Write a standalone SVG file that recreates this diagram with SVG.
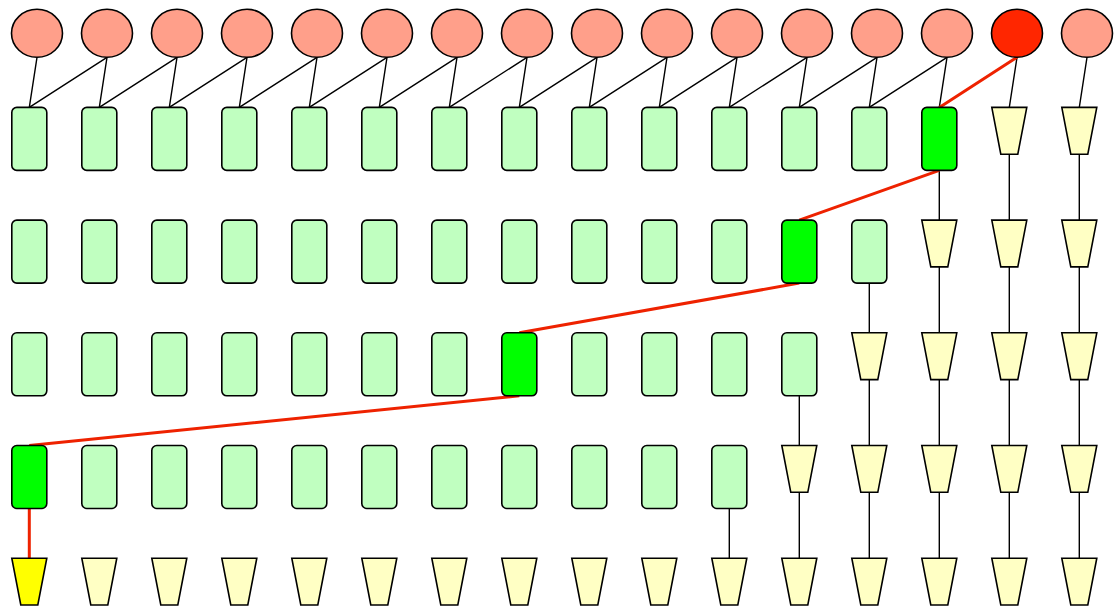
<svg xmlns="http://www.w3.org/2000/svg" xmlns:xlink="http://www.w3.org/1999/xlink" width="1117" height="609" viewBox="0 0 1117 609">
  <style>
    .node { stroke: #000; stroke-width: 1.6; }
    .src { fill: #ff9f8a; }
    .src-hot { fill: #ff2600; }
    .cell { fill: #c0ffc0; }
    .cell-hot { fill: #00ff00; }
    .sink { fill: #ffffc4; }
    .sink-hot { fill: #ffff00; }
    .edge { fill: none; stroke: #000; stroke-width: 1.4; }
    .path { fill: none; stroke: #ee2200; stroke-width: 3; }
  </style>
  <defs>
    <ellipse id="oval" cx="7.7" cy="33.3" rx="25.5" ry="24"/>
    <rect id="box" x="-17.5" y="0.7" width="35" height="63" rx="5" ry="5"/>
    <polygon id="trap" points="-17.5,0.7 17.5,0.7 8.5,47.5 -8.5,47.5"/>
  </defs>

  <rect width="1117" height="609" fill="#fff"/>

  <!-- connectors -->
  <g id="connectors">
    <!-- sources to first row -->
    <path class="edge" d="M37,57.3L29.3,107.4 M107,57.3L29.3,107.4"/>
    <path class="edge" d="M107,57.3L99.3,107.4 M177,57.3L99.3,107.4"/>
    <path class="edge" d="M177,57.3L169.3,107.4 M247,57.3L169.3,107.4"/>
    <path class="edge" d="M247,57.3L239.3,107.4 M317,57.3L239.3,107.4"/>
    <path class="edge" d="M317,57.3L309.3,107.4 M387,57.3L309.3,107.4"/>
    <path class="edge" d="M387,57.3L379.3,107.4 M457,57.3L379.3,107.4"/>
    <path class="edge" d="M457,57.3L449.3,107.4 M527,57.3L449.3,107.4"/>
    <path class="edge" d="M527,57.3L519.3,107.4 M597,57.3L519.3,107.4"/>
    <path class="edge" d="M597,57.3L589.3,107.4 M667,57.3L589.3,107.4"/>
    <path class="edge" d="M667,57.3L659.3,107.4 M737,57.3L659.3,107.4"/>
    <path class="edge" d="M737,57.3L729.3,107.4 M807,57.3L729.3,107.4"/>
    <path class="edge" d="M807,57.3L799.3,107.4 M877,57.3L799.3,107.4"/>
    <path class="edge" d="M877,57.3L869.3,107.4 M947,57.3L869.3,107.4"/>
    <path class="edge" d="M947,57.3L939.3,107.4"/>
    <path class="edge" d="M1017,57.3L1009.3,107.4 M1087,57.3L1079.3,107.4"/>

    <!-- row 1 to row 2 -->
    <path class="edge" d="M939.3,170.4V220.1 M1009.3,154.2V220.1 M1079.3,154.2V220.1"/>
    <!-- row 2 to row 3 -->
    <path class="edge" d="M869.3,283.1V332.8 M939.3,266.9V332.8 M1009.3,266.9V332.8 M1079.3,266.9V332.8"/>
    <!-- row 3 to row 4 -->
    <path class="edge" d="M799.3,395.8V445.5 M869.3,379.6V445.5 M939.3,379.6V445.5 M1009.3,379.6V445.5 M1079.3,379.6V445.5"/>
    <!-- row 4 to row 5 -->
    <path class="edge" d="M729.3,508.5V558.2 M799.3,492.3V558.2 M869.3,492.3V558.2 M939.3,492.3V558.2 M1009.3,492.3V558.2 M1079.3,492.3V558.2"/>

    <!-- highlighted route -->
    <path class="path" d="M1017,57.3L939.3,107.4 M939.3,170.4L799.3,220.1 M799.3,283.1L519.3,332.8 M519.3,395.8L29.3,445.5 M29.3,508.5V558.2"/>
  </g>

  <!-- sources -->
  <g id="s0" transform="translate(29.3,0)"><use xlink:href="#oval" class="node src"/></g>
  <g id="s1" transform="translate(99.3,0)"><use xlink:href="#oval" class="node src"/></g>
  <g id="s2" transform="translate(169.3,0)"><use xlink:href="#oval" class="node src"/></g>
  <g id="s3" transform="translate(239.3,0)"><use xlink:href="#oval" class="node src"/></g>
  <g id="s4" transform="translate(309.3,0)"><use xlink:href="#oval" class="node src"/></g>
  <g id="s5" transform="translate(379.3,0)"><use xlink:href="#oval" class="node src"/></g>
  <g id="s6" transform="translate(449.3,0)"><use xlink:href="#oval" class="node src"/></g>
  <g id="s7" transform="translate(519.3,0)"><use xlink:href="#oval" class="node src"/></g>
  <g id="s8" transform="translate(589.3,0)"><use xlink:href="#oval" class="node src"/></g>
  <g id="s9" transform="translate(659.3,0)"><use xlink:href="#oval" class="node src"/></g>
  <g id="s10" transform="translate(729.3,0)"><use xlink:href="#oval" class="node src"/></g>
  <g id="s11" transform="translate(799.3,0)"><use xlink:href="#oval" class="node src"/></g>
  <g id="s12" transform="translate(869.3,0)"><use xlink:href="#oval" class="node src"/></g>
  <g id="s13" transform="translate(939.3,0)"><use xlink:href="#oval" class="node src"/></g>
  <g id="s14" transform="translate(1009.3,0)"><use xlink:href="#oval" class="node src-hot"/></g>
  <g id="s15" transform="translate(1079.3,0)"><use xlink:href="#oval" class="node src"/></g>

  <!-- row 1 -->
  <g id="r1c0" transform="translate(29.3,106.7)"><use xlink:href="#box" class="node cell"/></g>
  <g id="r1c1" transform="translate(99.3,106.7)"><use xlink:href="#box" class="node cell"/></g>
  <g id="r1c2" transform="translate(169.3,106.7)"><use xlink:href="#box" class="node cell"/></g>
  <g id="r1c3" transform="translate(239.3,106.7)"><use xlink:href="#box" class="node cell"/></g>
  <g id="r1c4" transform="translate(309.3,106.7)"><use xlink:href="#box" class="node cell"/></g>
  <g id="r1c5" transform="translate(379.3,106.7)"><use xlink:href="#box" class="node cell"/></g>
  <g id="r1c6" transform="translate(449.3,106.7)"><use xlink:href="#box" class="node cell"/></g>
  <g id="r1c7" transform="translate(519.3,106.7)"><use xlink:href="#box" class="node cell"/></g>
  <g id="r1c8" transform="translate(589.3,106.7)"><use xlink:href="#box" class="node cell"/></g>
  <g id="r1c9" transform="translate(659.3,106.7)"><use xlink:href="#box" class="node cell"/></g>
  <g id="r1c10" transform="translate(729.3,106.7)"><use xlink:href="#box" class="node cell"/></g>
  <g id="r1c11" transform="translate(799.3,106.7)"><use xlink:href="#box" class="node cell"/></g>
  <g id="r1c12" transform="translate(869.3,106.7)"><use xlink:href="#box" class="node cell"/></g>
  <g id="r1c13" transform="translate(939.3,106.7)"><use xlink:href="#box" class="node cell-hot"/></g>
  <g id="r1c14" transform="translate(1009.3,106.7)"><use xlink:href="#trap" class="node sink"/></g>
  <g id="r1c15" transform="translate(1079.3,106.7)"><use xlink:href="#trap" class="node sink"/></g>

  <!-- row 2 -->
  <g id="r2c0" transform="translate(29.3,219.4)"><use xlink:href="#box" class="node cell"/></g>
  <g id="r2c1" transform="translate(99.3,219.4)"><use xlink:href="#box" class="node cell"/></g>
  <g id="r2c2" transform="translate(169.3,219.4)"><use xlink:href="#box" class="node cell"/></g>
  <g id="r2c3" transform="translate(239.3,219.4)"><use xlink:href="#box" class="node cell"/></g>
  <g id="r2c4" transform="translate(309.3,219.4)"><use xlink:href="#box" class="node cell"/></g>
  <g id="r2c5" transform="translate(379.3,219.4)"><use xlink:href="#box" class="node cell"/></g>
  <g id="r2c6" transform="translate(449.3,219.4)"><use xlink:href="#box" class="node cell"/></g>
  <g id="r2c7" transform="translate(519.3,219.4)"><use xlink:href="#box" class="node cell"/></g>
  <g id="r2c8" transform="translate(589.3,219.4)"><use xlink:href="#box" class="node cell"/></g>
  <g id="r2c9" transform="translate(659.3,219.4)"><use xlink:href="#box" class="node cell"/></g>
  <g id="r2c10" transform="translate(729.3,219.4)"><use xlink:href="#box" class="node cell"/></g>
  <g id="r2c11" transform="translate(799.3,219.4)"><use xlink:href="#box" class="node cell-hot"/></g>
  <g id="r2c12" transform="translate(869.3,219.4)"><use xlink:href="#box" class="node cell"/></g>
  <g id="r2c13" transform="translate(939.3,219.4)"><use xlink:href="#trap" class="node sink"/></g>
  <g id="r2c14" transform="translate(1009.3,219.4)"><use xlink:href="#trap" class="node sink"/></g>
  <g id="r2c15" transform="translate(1079.3,219.4)"><use xlink:href="#trap" class="node sink"/></g>

  <!-- row 3 -->
  <g id="r3c0" transform="translate(29.3,332.1)"><use xlink:href="#box" class="node cell"/></g>
  <g id="r3c1" transform="translate(99.3,332.1)"><use xlink:href="#box" class="node cell"/></g>
  <g id="r3c2" transform="translate(169.3,332.1)"><use xlink:href="#box" class="node cell"/></g>
  <g id="r3c3" transform="translate(239.3,332.1)"><use xlink:href="#box" class="node cell"/></g>
  <g id="r3c4" transform="translate(309.3,332.1)"><use xlink:href="#box" class="node cell"/></g>
  <g id="r3c5" transform="translate(379.3,332.1)"><use xlink:href="#box" class="node cell"/></g>
  <g id="r3c6" transform="translate(449.3,332.1)"><use xlink:href="#box" class="node cell"/></g>
  <g id="r3c7" transform="translate(519.3,332.1)"><use xlink:href="#box" class="node cell-hot"/></g>
  <g id="r3c8" transform="translate(589.3,332.1)"><use xlink:href="#box" class="node cell"/></g>
  <g id="r3c9" transform="translate(659.3,332.1)"><use xlink:href="#box" class="node cell"/></g>
  <g id="r3c10" transform="translate(729.3,332.1)"><use xlink:href="#box" class="node cell"/></g>
  <g id="r3c11" transform="translate(799.3,332.1)"><use xlink:href="#box" class="node cell"/></g>
  <g id="r3c12" transform="translate(869.3,332.1)"><use xlink:href="#trap" class="node sink"/></g>
  <g id="r3c13" transform="translate(939.3,332.1)"><use xlink:href="#trap" class="node sink"/></g>
  <g id="r3c14" transform="translate(1009.3,332.1)"><use xlink:href="#trap" class="node sink"/></g>
  <g id="r3c15" transform="translate(1079.3,332.1)"><use xlink:href="#trap" class="node sink"/></g>

  <!-- row 4 -->
  <g id="r4c0" transform="translate(29.3,444.8)"><use xlink:href="#box" class="node cell-hot"/></g>
  <g id="r4c1" transform="translate(99.3,444.8)"><use xlink:href="#box" class="node cell"/></g>
  <g id="r4c2" transform="translate(169.3,444.8)"><use xlink:href="#box" class="node cell"/></g>
  <g id="r4c3" transform="translate(239.3,444.8)"><use xlink:href="#box" class="node cell"/></g>
  <g id="r4c4" transform="translate(309.3,444.8)"><use xlink:href="#box" class="node cell"/></g>
  <g id="r4c5" transform="translate(379.3,444.8)"><use xlink:href="#box" class="node cell"/></g>
  <g id="r4c6" transform="translate(449.3,444.8)"><use xlink:href="#box" class="node cell"/></g>
  <g id="r4c7" transform="translate(519.3,444.8)"><use xlink:href="#box" class="node cell"/></g>
  <g id="r4c8" transform="translate(589.3,444.8)"><use xlink:href="#box" class="node cell"/></g>
  <g id="r4c9" transform="translate(659.3,444.8)"><use xlink:href="#box" class="node cell"/></g>
  <g id="r4c10" transform="translate(729.3,444.8)"><use xlink:href="#box" class="node cell"/></g>
  <g id="r4c11" transform="translate(799.3,444.8)"><use xlink:href="#trap" class="node sink"/></g>
  <g id="r4c12" transform="translate(869.3,444.8)"><use xlink:href="#trap" class="node sink"/></g>
  <g id="r4c13" transform="translate(939.3,444.8)"><use xlink:href="#trap" class="node sink"/></g>
  <g id="r4c14" transform="translate(1009.3,444.8)"><use xlink:href="#trap" class="node sink"/></g>
  <g id="r4c15" transform="translate(1079.3,444.8)"><use xlink:href="#trap" class="node sink"/></g>

  <!-- row 5 -->
  <g id="r5c0" transform="translate(29.3,557.5)"><use xlink:href="#trap" class="node sink-hot"/></g>
  <g id="r5c1" transform="translate(99.3,557.5)"><use xlink:href="#trap" class="node sink"/></g>
  <g id="r5c2" transform="translate(169.3,557.5)"><use xlink:href="#trap" class="node sink"/></g>
  <g id="r5c3" transform="translate(239.3,557.5)"><use xlink:href="#trap" class="node sink"/></g>
  <g id="r5c4" transform="translate(309.3,557.5)"><use xlink:href="#trap" class="node sink"/></g>
  <g id="r5c5" transform="translate(379.3,557.5)"><use xlink:href="#trap" class="node sink"/></g>
  <g id="r5c6" transform="translate(449.3,557.5)"><use xlink:href="#trap" class="node sink"/></g>
  <g id="r5c7" transform="translate(519.3,557.5)"><use xlink:href="#trap" class="node sink"/></g>
  <g id="r5c8" transform="translate(589.3,557.5)"><use xlink:href="#trap" class="node sink"/></g>
  <g id="r5c9" transform="translate(659.3,557.5)"><use xlink:href="#trap" class="node sink"/></g>
  <g id="r5c10" transform="translate(729.3,557.5)"><use xlink:href="#trap" class="node sink"/></g>
  <g id="r5c11" transform="translate(799.3,557.5)"><use xlink:href="#trap" class="node sink"/></g>
  <g id="r5c12" transform="translate(869.3,557.5)"><use xlink:href="#trap" class="node sink"/></g>
  <g id="r5c13" transform="translate(939.3,557.5)"><use xlink:href="#trap" class="node sink"/></g>
  <g id="r5c14" transform="translate(1009.3,557.5)"><use xlink:href="#trap" class="node sink"/></g>
  <g id="r5c15" transform="translate(1079.3,557.5)"><use xlink:href="#trap" class="node sink"/></g>
</svg>
